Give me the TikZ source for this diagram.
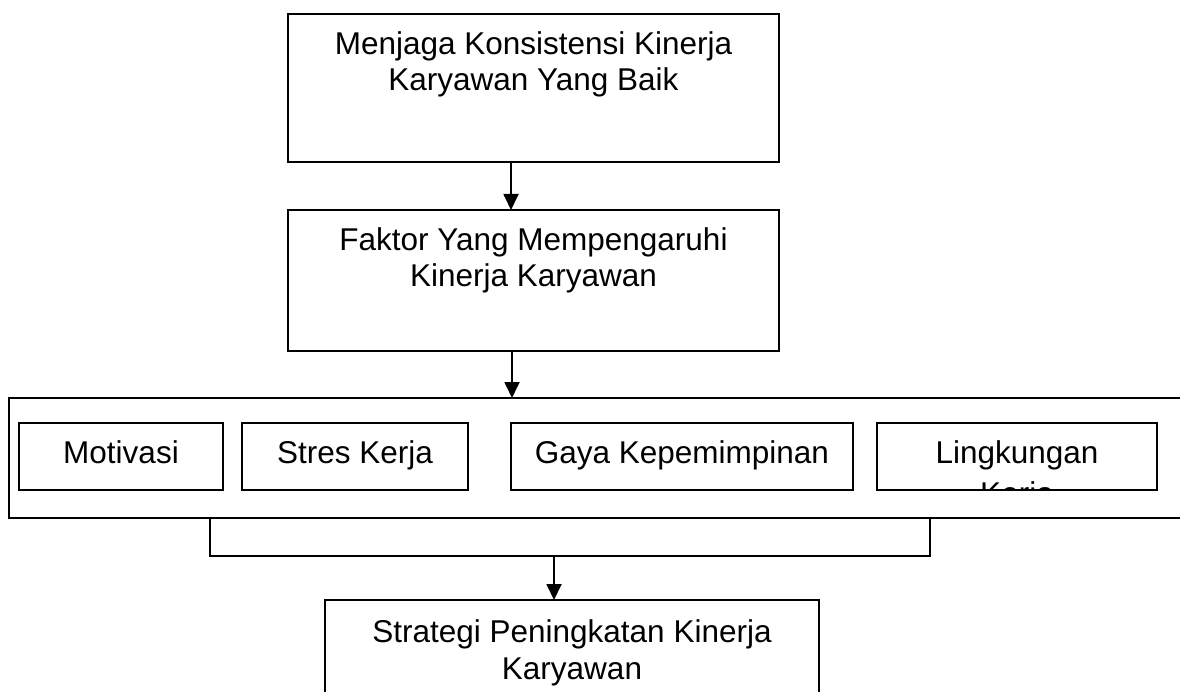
\documentclass[tikz,border=0pt]{standalone}
\usepackage{fontspec}
\setmainfont{Liberation Sans}
\usetikzlibrary{arrows.meta,calc}
\newcommand\fsz{\fontsize{31.5}{36}\selectfont}
\tikzset{
  box/.style={draw, line width=1.8pt, rectangle, inner sep=0pt, outer sep=0pt, anchor=north west},
  txt/.style={font=\fsz, inner sep=0pt, anchor=base},
  arr/.style={line width=1.8pt, -{Triangle[length=16pt,width=15pt]}},
  lin/.style={line width=1.8pt}
}
\begin{document}
\begin{tikzpicture}[x=1pt,y=-1pt]
\clip (0,0) rectangle (1180,692);
\fill[white] (0,0) rectangle (1180,692);
% top box
\node[box, minimum width=491pt, minimum height=148pt] (b1) at (288,14) {};
\node[txt] (t1a) at (533.5,55) {Menjaga Konsistensi Kinerja};
\node[txt] (t1b) at (533.5,91) {Karyawan Yang Baik};
% second box
\node[box, minimum width=491pt, minimum height=141pt] (b2) at (288,210) {};
\node[txt] (t2a) at (533.5,251) {Faktor Yang Mempengaruhi};
\node[txt] (t2b) at (533.5,287) {Kinerja Karyawan};
% group box
\node[box, minimum width=1190pt, minimum height=120pt] (grp) at (9,398) {};
% inner boxes
\node[box, minimum width=204pt, minimum height=67pt] (m) at (19,423) {};
\node[txt] (tm) at (m.center |- 0,463) {Motivasi};
\node[box, minimum width=226pt, minimum height=67pt] (s) at (242,423) {};
\node[txt] (ts) at (s.center |- 0,463) {Stres Kerja};
\node[box, minimum width=342pt, minimum height=67pt] (g) at (511,423) {};
\node[txt] (tg) at (g.center |- 0,463) {Gaya Kepemimpinan};
\begin{scope}
\clip (878,424) rectangle (1156,489);
\node[txt] (tl2) at (1017,504) {Kerja};
\end{scope}
\node[box, minimum width=280pt, minimum height=67pt] (l) at (877,423) {};
\node[txt] (tl) at (l.center |- 0,463) {Lingkungan};
% bottom box
\node[box, minimum width=494pt, minimum height=120pt] (b5) at (325,600) {};
\node[txt] (t5a) at (572,642) {Strategi Peningkatan Kinerja};
\node[txt] (t5b) at (572,679) {Karyawan};
% connectors
\coordinate (a1) at ([xshift=-22.5pt]b1.south);
\draw[arr] (a1) -- (a1 |- b2.north);
\coordinate (a2) at ([xshift=-21.5pt]b2.south);
\draw[arr] (a2) -- (a2 |- grp.north);
\coordinate (bl) at (210,556);
\coordinate (br) at (930,556);
\draw[lin] (bl |- grp.south) -- (bl) -- (br) -- (br |- grp.south);
\coordinate (bm) at (554,556);
\draw[arr] (bm) -- (bm |- b5.north);
\end{tikzpicture}
\end{document}
